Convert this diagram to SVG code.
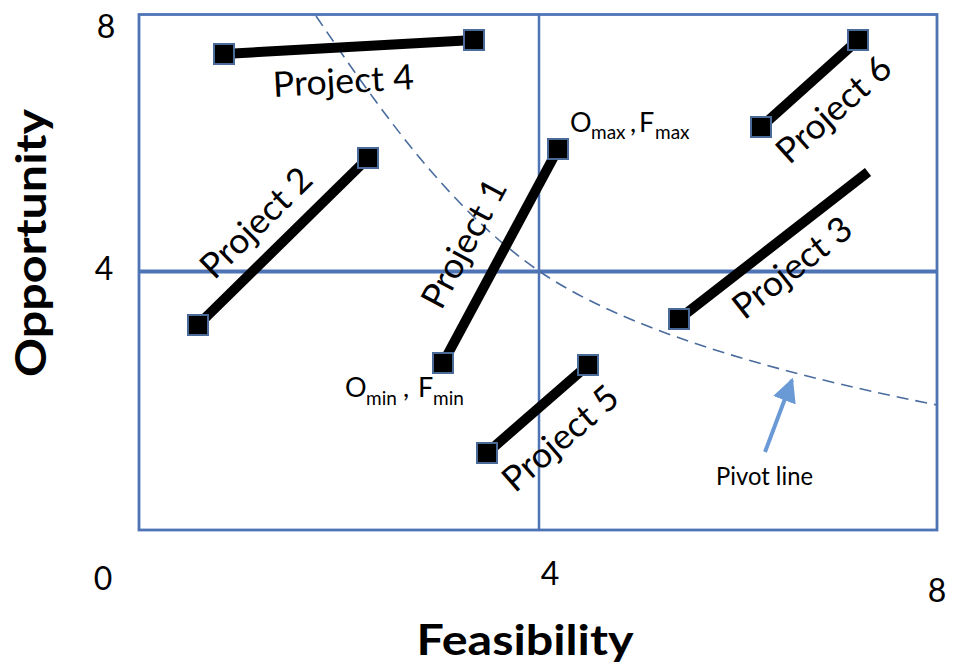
<svg xmlns="http://www.w3.org/2000/svg" width="956" height="665" viewBox="0 0 956 665">
<defs>
<style>
.frame{fill:none;stroke:#4F74B6;stroke-width:2.8}
.grid{stroke:#4F74B6}
.bar{stroke:#000;stroke-width:10;stroke-linecap:butt}
.mk{fill:#000;stroke:#4A6A9A;stroke-width:2}
.lbl{font-family:Lato,"Liberation Sans",sans-serif;font-size:35px;fill:#000;text-anchor:middle}
.tick{font-family:Lato,"Liberation Sans",sans-serif;font-size:32px;fill:#000;text-anchor:middle}
.ax{font-family:Lato,"Liberation Sans",sans-serif;font-size:42px;font-weight:bold;fill:#000;text-anchor:middle}
.sm{font-family:Lato,"Liberation Sans",sans-serif;font-size:27px;fill:#000}
.sub{font-size:19px}
.pivot{fill:none;stroke:#4A6C9E;stroke-width:1.6;stroke-dasharray:12 7}
</style>
<marker id="ah" viewBox="0 0 10 10" refX="9" refY="5" markerWidth="6" markerHeight="6" orient="auto" markerUnits="strokeWidth">
<path d="M0,0 L10,5 L0,10 z" fill="#6A9AD6"/>
</marker>
</defs>
<rect width="956" height="665" fill="#fff"/>
<g id="chart-frame">
<rect class="frame" x="139" y="14.5" width="798" height="515.5"/>
<line class="grid" x1="539" y1="14.5" x2="539" y2="530" stroke-width="2.5"/>
<line class="grid" x1="139" y1="271.5" x2="937" y2="271.5" stroke-width="4"/>
</g>
<g id="pivot-line">
<path class="pivot" d="M316,16 C380,110 450,210 539,271 C620,326.5 760,370 937,405"/>
</g>
<g id="axes">
<text class="tick" x="106" y="38">8</text>
<text class="tick" x="104" y="280">4</text>
<text class="tick" x="103" y="590">0</text>
<text class="tick" x="550" y="585">4</text>
<text class="tick" x="937" y="602">8</text>
<text class="ax" transform="translate(46,243) rotate(-90)" textLength="268" lengthAdjust="spacingAndGlyphs">Opportunity</text>
<text class="ax" x="525" y="655" textLength="217" lengthAdjust="spacingAndGlyphs">Feasibility</text>
</g>
<g id="connectors">
<line class="bar" x1="224" y1="54" x2="474" y2="40"/>
<line class="bar" x1="198" y1="325" x2="368" y2="158"/>
<line class="bar" x1="443" y1="363" x2="558" y2="149"/>
<line class="bar" x1="487" y1="453" x2="588" y2="365"/>
<line class="bar" x1="679" y1="319" x2="868" y2="172"/>
<line class="bar" x1="761" y1="127" x2="858" y2="40"/>
<line x1="765" y1="452" x2="792" y2="380" stroke="#6A9AD6" stroke-width="4" marker-end="url(#ah)"/>
</g>
<g id="project-4">
<rect class="mk" x="214" y="44" width="20" height="20"/>
<rect class="mk" x="464" y="30" width="20" height="20"/>
<text class="lbl" transform="translate(343.5,84) rotate(-3.2)" x="0" y="9" textLength="141" lengthAdjust="spacingAndGlyphs">Project 4</text>
</g>
<g id="project-2">
<rect class="mk" x="188" y="315" width="20" height="20"/>
<rect class="mk" x="358" y="148" width="20" height="20"/>
<text class="lbl" transform="translate(258.3,225) rotate(-44.5)" x="0" y="9" textLength="141" lengthAdjust="spacingAndGlyphs">Project 2</text>
</g>
<g id="project-1">
<rect class="mk" x="433" y="353" width="20" height="20"/>
<rect class="mk" x="548" y="139" width="20" height="20"/>
<text class="lbl" transform="translate(466.7,245) rotate(-61.7)" x="0" y="9" textLength="141" lengthAdjust="spacingAndGlyphs">Project 1</text>
<text class="sm"><tspan x="570" y="132">O</tspan><tspan class="sub" x="591" y="139">max</tspan><tspan x="630" y="132">,</tspan><tspan x="639" y="132">F</tspan><tspan class="sub" x="655" y="139">max</tspan></text>
<text class="sm"><tspan x="345" y="397">O</tspan><tspan class="sub" x="366" y="405">min</tspan><tspan x="403" y="397">,</tspan><tspan x="418" y="397">F</tspan><tspan class="sub" x="433" y="405">min</tspan></text>
</g>
<g id="project-5">
<rect class="mk" x="477" y="443" width="20" height="20"/>
<rect class="mk" x="578" y="355" width="20" height="20"/>
<text class="lbl" transform="translate(562.3,440.7) rotate(-41)" x="0" y="9" textLength="141" lengthAdjust="spacingAndGlyphs">Project 5</text>
</g>
<g id="project-3">
<rect class="mk" x="669" y="309" width="20" height="20"/>
<text class="lbl" transform="translate(794,270) rotate(-38.2)" x="0" y="9" textLength="141" lengthAdjust="spacingAndGlyphs">Project 3</text>
</g>
<g id="project-6">
<rect class="mk" x="751" y="117" width="20" height="20"/>
<rect class="mk" x="848" y="30" width="20" height="20"/>
<text class="lbl" transform="translate(835.7,111.7) rotate(-41.8)" x="0" y="9" textLength="141" lengthAdjust="spacingAndGlyphs">Project 6</text>
</g>
<g id="pivot-label">
<text class="sm" x="716" y="485" textLength="97" lengthAdjust="spacingAndGlyphs" style="font-size:25px">Pivot line</text>
</g>
</svg>
